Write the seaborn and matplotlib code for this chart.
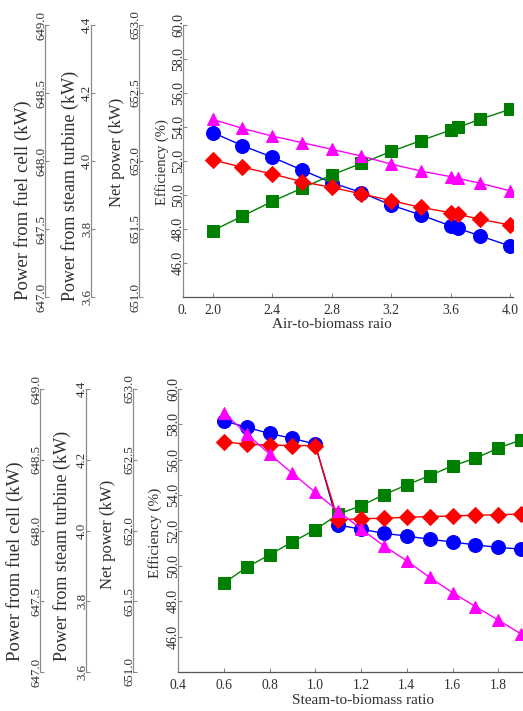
import numpy as np
import seaborn as sns
import matplotlib.pyplot as plt
from matplotlib.ticker import FormatStrFormatter

# ------------------ DATA ------------------ #

# air-to-biomass panel
air_ratio = [2.0, 2.2, 2.4, 2.6, 2.8, 3.0, 3.2, 3.4, 3.6, 3.65, 3.8, 4.0]
air_fc_power = [648.209, 648.113, 648.028, 647.934, 647.841, 647.768,
                647.676, 647.603, 647.523, 647.505, 647.449, 647.375]
air_st_power = [3.795, 3.838, 3.881, 3.920, 3.959, 3.993,
                4.028, 4.060, 4.091, 4.099, 4.123, 4.152]
air_net_power = [652.008, 651.954, 651.905, 651.848, 651.806, 651.758,
                 651.709, 651.659, 651.620, 651.608, 651.571, 651.530]
air_eff = [54.45, 53.92, 53.47, 53.08, 52.69, 52.29,
           51.82, 51.41, 51.08, 50.98, 50.69, 50.25]

# steam-to-biomass panel
steam_ratio = [0.6, 0.7, 0.8, 0.9, 1.0, 1.1, 1.2, 1.3, 1.4, 1.5, 1.6, 1.7, 1.8, 1.9]
steam_fc_power = [648.776, 648.729, 648.686, 648.651, 648.611, 648.039, 648.009,
                  647.980, 647.961, 647.938, 647.919, 647.898, 647.881, 647.868]
steam_st_power = [3.851, 3.896, 3.931, 3.968, 4.002, 4.046, 4.070,
                  4.101, 4.129, 4.155, 4.183, 4.204, 4.233, 4.256]
steam_net_power = [652.628, 652.609, 652.604, 652.600, 652.600, 652.075, 652.084,
                   652.086, 652.094, 652.098, 652.103, 652.108, 652.111, 652.116]
steam_eff = [58.66, 57.46, 56.33, 55.23, 54.16, 53.10, 52.09,
             51.13, 50.29, 49.35, 48.49, 47.70, 46.94, 46.15]

air_xticks = [1.8, 2.0, 2.4, 2.8, 3.2, 3.6, 4.0]
air_xticklabels = ['0.', '2.0', '2.4', '2.8', '3.2', '3.6', '4.0']
steam_xticks = [0.4, 0.6, 0.8, 1.0, 1.2, 1.4, 1.6, 1.8]
steam_xticklabels = ['0.4', '0.6', '0.8', '1.0', '1.2', '1.4', '1.6', '1.8']

# ------------------ STYLE ------------------ #

sns.set_style('ticks')
plt.rcParams['font.family'] = ['Liberation Serif', 'DejaVu Serif']

W, H = 523, 711
fig = plt.figure(figsize=(W / 100, H / 100), dpi=100)

GREY = '#8a8a8a'
TXT = '#303030'


def style_yaxis(a, ylim, ticks, fmt, label, size, lab_x, lab_y, tsize=9.3):
    a.set_ylim(*ylim)
    a.set_yticks(ticks)
    a.yaxis.set_major_formatter(FormatStrFormatter(fmt))
    a.tick_params(axis='y', direction='in', length=3, width=0.8, color=GREY,
                  labelsize=tsize, labelcolor=TXT, pad=-1.5, left=True, right=False,
                  labelleft=True, labelright=False)
    for t in a.get_yticklabels():
        t.set_rotation(90)
        t.set_va('center')
    a.set_ylabel(label, fontsize=size, color=TXT)
    a.yaxis.label.set_va('center')
    a.yaxis.set_label_coords(lab_x, lab_y)


def panel(left, right, top, bottom, spines_px, labels_px, x, fc, st, net, eff,
          xlim, xticks, xticklabels, xlabel, xlabel_pos):
    ax = fig.add_axes([left / W, 1 - bottom / H, (right - left) / W, (bottom - top) / H])
    ax.set_zorder(4)
    ax.patch.set_visible(False)

    width_px = right - left
    height_px = bottom - top
    fx = lambda px: (px - left) / width_px
    fy = lambda py: (bottom - py) / height_px

    twins = []
    for i in range(3):
        t = ax.twinx()
        t.set_zorder(i + 1)
        t.yaxis.tick_left()
        t.yaxis.set_label_position('left')
        for s in ['top', 'right', 'bottom']:
            t.spines[s].set_visible(False)
        t.spines['left'].set_visible(True)
        t.spines['left'].set_position(('axes', fx(spines_px[i])))
        t.spines['left'].set_color(GREY)
        t.spines['left'].set_linewidth(0.9)
        twins.append(t)
    ax_fc, ax_st, ax_net = twins

    sns.lineplot(x=x, y=st, ax=ax_st, color='#008000', marker='s', markersize=9,
                 markeredgecolor='#008000', linewidth=1, sort=False)
    sns.lineplot(x=x, y=fc, ax=ax_fc, color='#0000ff', marker='o', markersize=10,
                 markeredgecolor='#0000ff', linewidth=1, sort=False)
    sns.lineplot(x=x, y=net, ax=ax_net, color='#ff0000', marker='D', markersize=8,
                 markeredgecolor='#ff0000', linewidth=1, sort=False)
    sns.lineplot(x=x, y=eff, ax=ax, color='#ff00ff', marker='^', markersize=9,
                 markeredgecolor='#ff00ff', linewidth=1, sort=False)

    (fcx, fcy, fcs), (stx, sty, sts), (ntx, nty, nts), (efx, efy, efs) = labels_px
    style_yaxis(ax_fc, (647.0, 649.0), np.arange(647.0, 649.01, 0.5), '%.1f',
                'Power from fuel cell (kW)', fcs, fx(fcx), fy(fcy))
    style_yaxis(ax_st, (3.6, 4.4), np.arange(3.6, 4.41, 0.2), '%.1f',
                'Power from steam turbine (kW)', sts, fx(stx), fy(sty))
    style_yaxis(ax_net, (651.0, 653.0), np.arange(651.0, 653.01, 0.5), '%.1f',
                'Net power (kW)', nts, fx(ntx), fy(nty))
    style_yaxis(ax, (44, 60), np.arange(46, 60.1, 2), '%.1f', 'Efficiency (%)',
                efs, fx(efx), fy(efy), tsize=10)

    for s in ['top', 'right']:
        ax.spines[s].set_visible(False)
    ax.spines['left'].set_color(GREY)
    ax.spines['left'].set_linewidth(0.9)
    ax.spines['bottom'].set_color('#555555')
    ax.spines['bottom'].set_linewidth(0.9)

    ax.set_xlim(*xlim)
    ax.set_xticks(xticks)
    ax.set_xticklabels(xticklabels)
    ax.tick_params(axis='x', direction='in', length=3, color=GREY,
                   labelsize=9.8, labelcolor=TXT, pad=5)
    ax.set_xlabel(xlabel, fontsize=11, color=TXT)
    ax.xaxis.label.set_va('center')
    ax.xaxis.set_label_coords(xlabel_pos, fy(bottom + 28))
    return ax


panel(183, 513, 25, 297, [45, 91, 139],
      [(23, 200, 13.5), (70, 186, 13), (117, 152, 12), (162, 162, 10.5)],
      air_ratio, air_fc_power, air_st_power, air_net_power, air_eff,
      (1.8, 4.02), air_xticks, air_xticklabels, 'Air-to-biomass raio', 0.45)

panel(178, 544, 389, 672, [40, 86, 133],
      [(15, 561, 13.5), (62, 546, 13), (108, 534, 12), (155, 533, 11)],
      steam_ratio, steam_fc_power, steam_st_power, steam_net_power, steam_eff,
      (0.4, 2.0), steam_xticks, steam_xticklabels, 'Steam-to-biomass ratio', 0.505)

fig.savefig('out.png', dpi=100)
